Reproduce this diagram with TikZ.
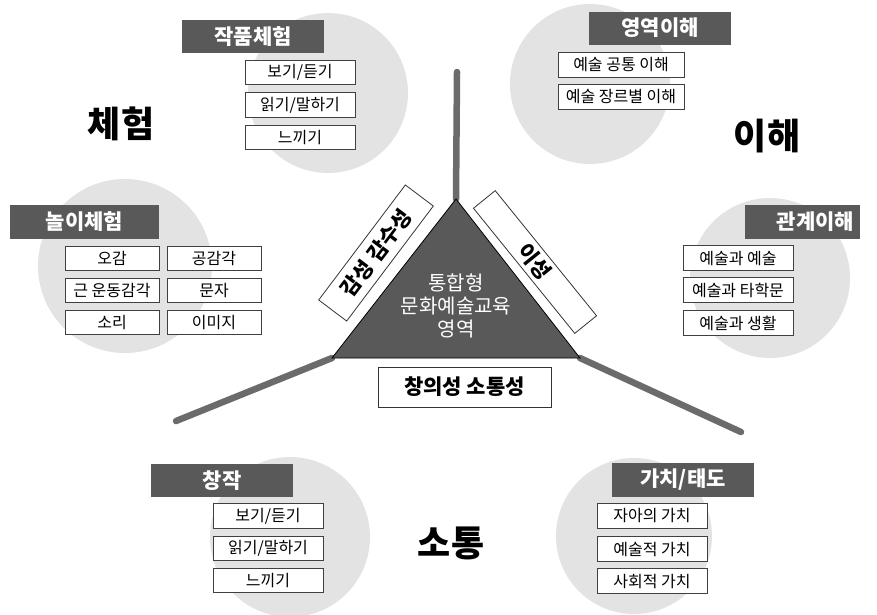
\documentclass[tikz,border=0pt]{standalone}
\usepackage{fontspec}
\setmainfont{Noto Sans CJK KR}
\definecolor{circ}{HTML}{E3E3E3}
\definecolor{dark}{HTML}{595959}
\definecolor{spoke}{HTML}{6B6B6B}
\tikzset{
 zone/.style={circle, fill=circ, inner sep=0pt, minimum size=#1},
 head/.style={fill=dark, text=white, font=\bfseries\fontsize{21}{23}\selectfont, inner sep=0pt, minimum width=142pt, minimum height=33pt},
 item/.style={draw=black!75, line width=0.8pt, fill=white, inner sep=0pt, minimum height=24.5pt, minimum width=110pt, font=\fontsize{16}{18}\selectfont},
 big/.style={font=\bfseries\fontsize{36}{40}\selectfont},
 spokeline/.style={draw=spoke, line width=6.5pt, line cap=round},
 tag/.style={draw=black!80, fill=white, line width=0.8pt, font=\bfseries\fontsize{21}{23}\selectfont, inner sep=0pt},
}
\begin{document}
\begin{tikzpicture}[x=1pt,y=-1pt]
\useasboundingbox (0,0) rectangle (877,614);
% circles
\node[zone=160pt] (z1) at (328,93) {};
\node[zone=160pt] (z2) at (590,84) {};
\node[zone=174pt] (z3) at (125,266) {};
\node[zone=160pt] (z4) at (770,278) {};
\node[zone=160pt] (z5) at (290,537) {};
\node[zone=156pt] (z6) at (634,536) {};
% triangle and spokes
\coordinate (A) at (456,199);
\coordinate (B) at (332,358);
\coordinate (C) at (580,358);
\coordinate (T) at (457,72);
\coordinate (L) at (176,421);
\coordinate (R) at (741,432);
\draw[spokeline] (T) -- (A);
\draw[spokeline] (L) -- (B);
\draw[spokeline] (R) -- (C);
\draw[fill=dark, draw=black, line width=0.8pt] (A) -- (B) -- (C) -- cycle;
\node[text=white, align=center, font=\fontsize{20}{23}\selectfont] (core) at (456,306) {통합형\\문화예술교육\\영역};
% side tags
\node[tag, minimum width=144pt, minimum height=35pt, rotate=53] (t1) at (376,253) {감성\hspace{6pt}감수성};
\node[tag, minimum width=161pt, minimum height=28pt, rotate=-51] (t2) at (535,262) {이성};
\node[tag, minimum width=173pt, minimum height=40pt] (t3) at (464.5,387) {창의성 소통성};
% big labels
\node[big] (b1) at (121,124) {체험};
\node[big] (b2) at (767,136) {이해};
\node[big] (b3) at (451,543) {소통};
% headers
\node[head] (h1) at (253,36.5) {작품체험};
\node[head] (h2) at (660,28) {영역이해};
\node[head, minimum width=149pt, minimum height=34pt] (h3) at (84.5,222) {놀이체험};
\node[head, minimum width=115pt, minimum height=34pt] (h4) at (802.5,222) {\hspace*{26pt}관계이해};
\node[head] (h5) at (222,480.5) {창작};
\node[head, minimum height=34pt] (h6) at (683,480) {가치/태도};
% items
\node[item] (a1) at (300,72.5) {보기/듣기};
\node[item] (a2) at (300,105) {읽기/말하기};
\node[item] (a3) at (300,137.5) {느끼기};
\node[item, minimum width=126pt] (e1) at (621,65) {예술 공통 이해};
\node[item, minimum width=126pt] (e2) at (621,97) {예술 장르별 이해};
\node[item, minimum width=94pt, minimum height=24pt] (p1) at (112,258) {오감};
\node[item, minimum width=94pt, minimum height=24pt] (p2) at (214,258) {공감각};
\node[item, minimum width=94pt, minimum height=24pt] (p3) at (112,290) {근 운동감각};
\node[item, minimum width=94pt, minimum height=24pt] (p4) at (214,290) {문자};
\node[item, minimum width=94pt, minimum height=24pt] (p5) at (112,322.5) {소리};
\node[item, minimum width=94pt, minimum height=24pt] (p6) at (214,322.5) {이미지};
\node[item] (r1) at (738,258) {예술과 예술};
\node[item] (r2) at (738,290) {예술과 타학문};
\node[item] (r3) at (738,323) {예술과 생활};
\node[item] (c1) at (268,516) {보기/듣기};
\node[item] (c2) at (268,548.5) {읽기/말하기};
\node[item] (c3) at (268,580.5) {느끼기};
\node[item] (v1) at (652,516) {자아의 가치};
\node[item] (v2) at (652,549) {예술적 가치};
\node[item] (v3) at (652,581) {사회적 가치};
\end{tikzpicture}
\end{document}
